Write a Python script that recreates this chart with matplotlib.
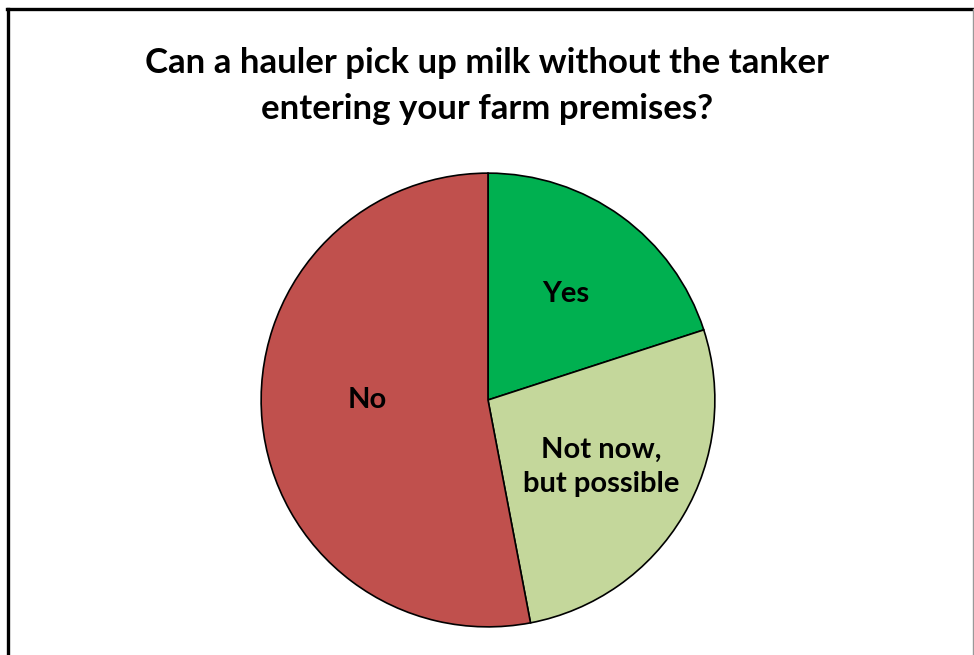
import matplotlib
matplotlib.use("Agg")
import matplotlib.pyplot as plt
from matplotlib.lines import Line2D

# Survey answers
title = "Can a hauler pick up milk without the tanker\nentering your farm premises?"
labels = ["Yes", "Not now,\nbut possible", "No"]
shares = [20, 27, 53]
colors = ["#00B050", "#C4D79B", "#C0504D"]

plt.rcParams["font.family"] = ["Lato", "DejaVu Sans"]

fig = plt.figure(figsize=(9.74, 6.55), dpi=100)

# outer frame like the slide chart border (left/top black, right grey)
top = 1 - 8.5 / 655
fig.lines.append(Line2D([7.5 / 974, 7.5 / 974], [0, top], transform=fig.transFigure,
                        color="black", linewidth=2.4))
fig.lines.append(Line2D([6.5 / 974, 974 / 974], [top, top], transform=fig.transFigure,
                        color="black", linewidth=2.4))
fig.lines.append(Line2D([973 / 974, 973 / 974], [0, top], transform=fig.transFigure,
                        color="#999999", linewidth=1.0))

fig.text(0.5, 1 - 86 / 655, title, ha="center", va="center",
         fontsize=25, fontweight="bold", linespacing=1.55)

ax = fig.add_axes([260 / 974, 27 / 655, 456 / 974, 456 / 655])
wedges, texts = ax.pie(shares, labels=labels, colors=colors, startangle=90,
                       counterclock=False, labeldistance=0.58,
                       wedgeprops=dict(edgecolor="black", linewidth=1.2))
for t in texts:
    t.set_ha("center")
    t.set_va("center")
    t.set_fontsize(21)
    t.set_fontweight("bold")
    t.set_linespacing(1.4)
# "No" label sits a bit higher and closer to the centre in the original
x, y = texts[2].get_position()
texts[2].set_position((x * 0.92, y + 0.055))
ax.set_xlim(-1.005, 1.005)
ax.set_ylim(-1.005, 1.005)
ax.set_aspect("equal")

fig.savefig("out.png", dpi=100)
